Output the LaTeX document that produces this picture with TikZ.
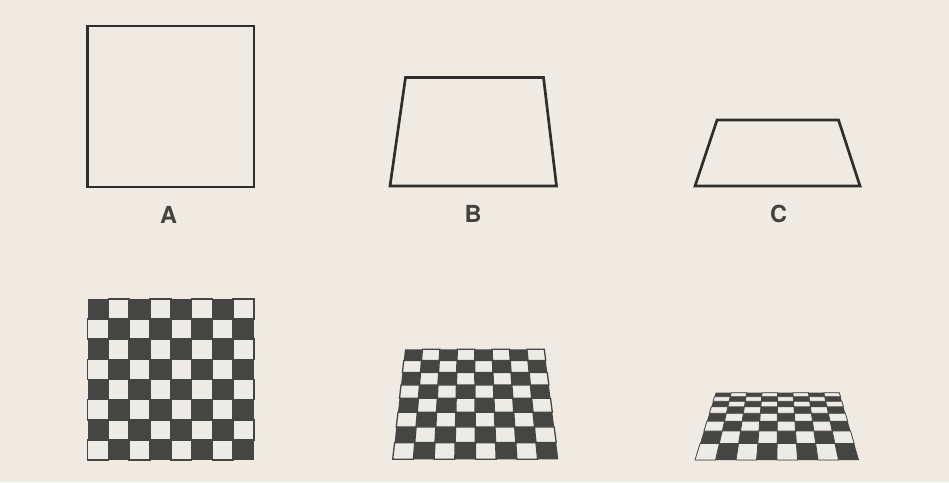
\documentclass[tikz,border=0pt]{standalone}
\usepackage{fontspec}
\setsansfont{TeX Gyre Heros}
\definecolor{paper}{HTML}{EFEBE3}
\definecolor{ink}{HTML}{2E2E2C}
\definecolor{boarddark}{HTML}{454543}
\definecolor{boardlight}{HTML}{EDEBE5}
\tikzset{
  outline/.style={draw=ink, line width=2.7pt, line join=miter},
  lbl/.style={text=ink!90!paper, font=\sffamily\bfseries\fontsize{23.5}{23.5}\selectfont, inner sep=0pt},
  lightcell/.style={fill=boardlight, draw=boarddark},
}
% #1 TLx #2 TRx #3 BLx #4 BRx #5 ytop #6 ybot #7 q (perspective factor) #8 gap width
\newcommand\checkerboard[8]{%
  \fill[boarddark] (#1,#5) -- (#2,#5) -- (#4,#6) -- (#3,#6) -- cycle;
  \foreach \r in {0,...,7}{
    \foreach \c in {0,...,7}{
      \pgfmathtruncatemacro\oddcell{mod(\r+\c,2)}
      \ifnum\oddcell=1
        \pgfmathsetmacro\ta{\r/8}
        \pgfmathsetmacro\tb{(\r+1)/8}
        \pgfmathsetmacro\va{\ta*#7/(\ta*#7+1-\ta)}
        \pgfmathsetmacro\vb{\tb*#7/(\tb*#7+1-\tb)}
        \pgfmathsetmacro\ya{#5+\va*(#6-#5)}
        \pgfmathsetmacro\yb{#5+\vb*(#6-#5)}
        \pgfmathsetmacro\la{#1+\va*(#3-#1)}
        \pgfmathsetmacro\ra{#2+\va*(#4-#2)}
        \pgfmathsetmacro\lb{#1+\vb*(#3-#1)}
        \pgfmathsetmacro\rb{#2+\vb*(#4-#2)}
        \pgfmathsetmacro\ua{\c/8}
        \pgfmathsetmacro\ub{(\c+1)/8}
        \pgfmathsetmacro\xa{\la+\ua*(\ra-\la)}
        \pgfmathsetmacro\xb{\la+\ub*(\ra-\la)}
        \pgfmathsetmacro\xc{\lb+\ub*(\rb-\lb)}
        \pgfmathsetmacro\xd{\lb+\ua*(\rb-\lb)}
        \path[lightcell, line width=#8] (\xa,\ya) -- (\xb,\ya) -- (\xc,\yb) -- (\xd,\yb) -- cycle;
      \fi
    }
  }
}
\begin{document}
\begin{tikzpicture}[x=1pt,y=-1pt]
  \useasboundingbox (0,0) rectangle (949,482);
  \fill[paper] (0,0) rectangle (949,482);
  % outline shapes
  \draw[outline] (87.5,26) rectangle (254,187);
  \draw[outline] (405.5,77.5) -- (543.5,77.5) -- (556.5,186) -- (390,186) -- cycle;
  \draw[outline] (717,120) -- (838.5,120) -- (860,186) -- (695,186) -- cycle;
  % labels
  \node[lbl] (labA) at (168.5,215) {A};
  \node[lbl] (labB) at (473,213.5) {B};
  \node[lbl] (labC) at (778.5,213.5) {C};
  % checkerboards
  \checkerboard{87.5}{254}{87.5}{254}{299}{460}{1}{1.6pt}
  \checkerboard{405}{544.3}{392.7}{558.3}{349.3}{459.3}{0.8}{1.3pt}
  \checkerboard{715.7}{839.3}{695}{859}{392.7}{460}{0.44}{0.8pt}
\end{tikzpicture}
\end{document}
